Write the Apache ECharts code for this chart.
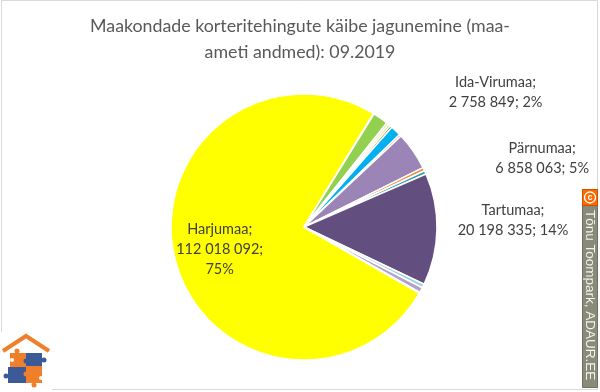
<!DOCTYPE html>
<html>
<head>
<meta charset="utf-8">
<script src="https://cdn.jsdelivr.net/npm/echarts@6/dist/echarts.min.js"></script>
<style>
html,body{margin:0;padding:0;background:#fff;}
#chart{width:600px;height:392px;}
</style>
</head>
<body>
<div id="chart"></div>
<script>
// ---- data ----
const titleText = 'Maakondade korteritehingute käibe jagunemine (maa-\nameti andmed): 09.2019';
const counties = ['Harjumaa','Hiiumaa','Ida-Virumaa','Jõgevamaa','Järvamaa','Läänemaa','Lääne-Virumaa','Põlvamaa','Pärnumaa','Raplamaa','Saaremaa','Tartumaa','Valgamaa','Viljandimaa','Võrumaa'];
const turnover = [112018092,120000,2758849,420000,400000,380000,1900000,360000,6858063,600000,640000,20198335,700000,950000,150000];
const labelledCounties = ['Harjumaa','Ida-Virumaa','Pärnumaa','Tartumaa'];
const watermarkText = 'Tõnu Toompark, ADAUR.EE';

// ---- styles ----
const sliceColors = ['#FFFF00','#EEEEEE','#92D050','#E4DFCC','#FFC000','#1F7A2E','#00B0F0','#D7282F','#9A85B6','#F68A33','#2F9BAE','#624F80','#9DD1E2','#B2A2C9','#D9D9D9'];
const labelShift = {
  'Harjumaa': [-17, 5],
  'Ida-Virumaa': [110, -26],
  'Pärnumaa': [124, 7],
  'Tartumaa': [71, -9]
};
const FONT = 'Lato, "Noto Sans", sans-serif';

const total = turnover.reduce((a, b) => a + b, 0);
const fmtNum = v => String(v).replace(/\B(?=(\d{3})+(?!\d))/g, ' ');
const pct = v => Math.round(v / total * 100);
// Harjumaa should end at 31.5 degrees clockwise from 12 o'clock
const harjuDeg = turnover[0] / total * 360;
const startAngle = 90 - (31.5 - harjuDeg);

const pieData = counties.map((name, i) => {
  const item = { name: name, value: turnover[i], itemStyle: { color: sliceColors[i] } };
  if (labelledCounties.indexOf(name) < 0) {
    item.label = { show: false };
  } else if (name === 'Harjumaa') {
    item.label = { show: true, position: 'inside' };
  }
  return item;
});

const chart = echarts.init(document.getElementById('chart'), null, { renderer: 'canvas' });
chart.setOption({
  backgroundColor: '#ffffff',
  animation: false,
  title: {
    text: titleText,
    left: 'center',
    top: 8,
    textStyle: { fontFamily: FONT, fontSize: 17.8, fontWeight: 'normal', color: '#595959', lineHeight: 26 }
  },
  series: [{
    type: 'pie',
    center: [304, 227],
    radius: [0, 133],
    startAngle: startAngle,
    clockwise: true,
    avoidLabelOverlap: false,
    data: pieData,
    itemStyle: { borderColor: '#ffffff', borderWidth: 1.5 },
    label: {
      show: true,
      position: 'outside',
      fontFamily: FONT,
      fontSize: 14.5,
      lineHeight: 20,
      color: '#404040',
      formatter: function (p) {
        if (p.name === 'Harjumaa') {
          return p.name + ';\n' + fmtNum(p.value) + ';\n' + pct(p.value) + '%';
        }
        return p.name + ';\n' + fmtNum(p.value) + '; ' + pct(p.value) + '%';
      }
    },
    labelLine: { show: false, length: 0, length2: 0 },
    labelLayout: function (p) {
      const s = labelShift[counties[p.dataIndex]];
      if (!s) return {};
      return { dx: s[0], dy: s[1], align: 'center', verticalAlign: 'middle' };
    },
    emphasis: { disabled: true }
  }],
  graphic: [
    // chart frame
    { type: 'rect', z: 0, shape: { x: 1.5, y: 0.5, width: 596, height: 389 }, style: { fill: 'none', stroke: '#D9D9D9', lineWidth: 1 }, silent: true },
    // logo
    { type: 'rect', z: 10, shape: { x: 0, y: 332, width: 52, height: 60 }, style: { fill: '#ffffff' }, silent: true },
    { type: 'polyline', z: 11, shape: { points: [[3, 351], [26, 336], [49, 351]] }, style: { stroke: '#F07F2A', lineWidth: 4, fill: 'none' }, silent: true },
    { type: 'rect', z: 11, shape: { x: 10, y: 353, width: 16, height: 14 }, style: { fill: '#F07F2A' }, silent: true },
    { type: 'rect', z: 11, shape: { x: 26, y: 353, width: 16, height: 13 }, style: { fill: '#3D5A98' }, silent: true },
    { type: 'rect', z: 11, shape: { x: 8, y: 367, width: 18, height: 16 }, style: { fill: '#3D5A98' }, silent: true },
    { type: 'rect', z: 11, shape: { x: 26, y: 366, width: 16, height: 17 }, style: { fill: '#F07F2A' }, silent: true },
    { type: 'circle', z: 12, shape: { cx: 17, cy: 351, r: 2.5 }, style: { fill: '#F07F2A' }, silent: true },
    { type: 'circle', z: 12, shape: { cx: 44, cy: 360, r: 2.5 }, style: { fill: '#3D5A98' }, silent: true },
    { type: 'circle', z: 12, shape: { cx: 6, cy: 376, r: 2.5 }, style: { fill: '#3D5A98' }, silent: true },
    { type: 'circle', z: 12, shape: { cx: 34, cy: 385, r: 2.5 }, style: { fill: '#F07F2A' }, silent: true },
    { type: 'circle', z: 12, shape: { cx: 12, cy: 360, r: 2 }, style: { fill: '#ffffff' }, silent: true },
    { type: 'circle', z: 12, shape: { cx: 41, cy: 378, r: 2 }, style: { fill: '#ffffff' }, silent: true },
    { type: 'circle', z: 12, shape: { cx: 26, cy: 361, r: 2.5 }, style: { fill: '#3D5A98' }, silent: true },
    { type: 'circle', z: 12, shape: { cx: 26, cy: 374, r: 2.5 }, style: { fill: '#F07F2A' }, silent: true },
    // watermark
    { type: 'rect', z: 10, shape: { x: 582.5, y: 189.5, width: 15, height: 198 }, style: { fill: '#8A8A78', stroke: '#6F6F62', lineWidth: 1 }, silent: true },
    { type: 'rect', z: 11, shape: { x: 582.5, y: 189.5, width: 15, height: 16 }, style: { fill: '#FF6A00', stroke: '#D05000', lineWidth: 1 }, silent: true },
    { type: 'circle', z: 12, shape: { cx: 590, cy: 197.5, r: 5.5 }, style: { fill: 'none', stroke: '#ffffff', lineWidth: 1.3 }, silent: true },
    { type: 'text', z: 13, x: 590, y: 197.5, style: { text: 'c', fill: '#ffffff', font: 'bold 9px "Liberation Sans", Arial, sans-serif', align: 'center', verticalAlign: 'middle' }, silent: true },
    { type: 'text', z: 12, x: 590, y: 210, rotation: -Math.PI / 2, style: { text: watermarkText, fill: '#F4F4F0', font: '13.5px "Liberation Sans", Arial, sans-serif', align: 'left', verticalAlign: 'middle' }, silent: true }
  ]
});
</script>
</body>
</html>
